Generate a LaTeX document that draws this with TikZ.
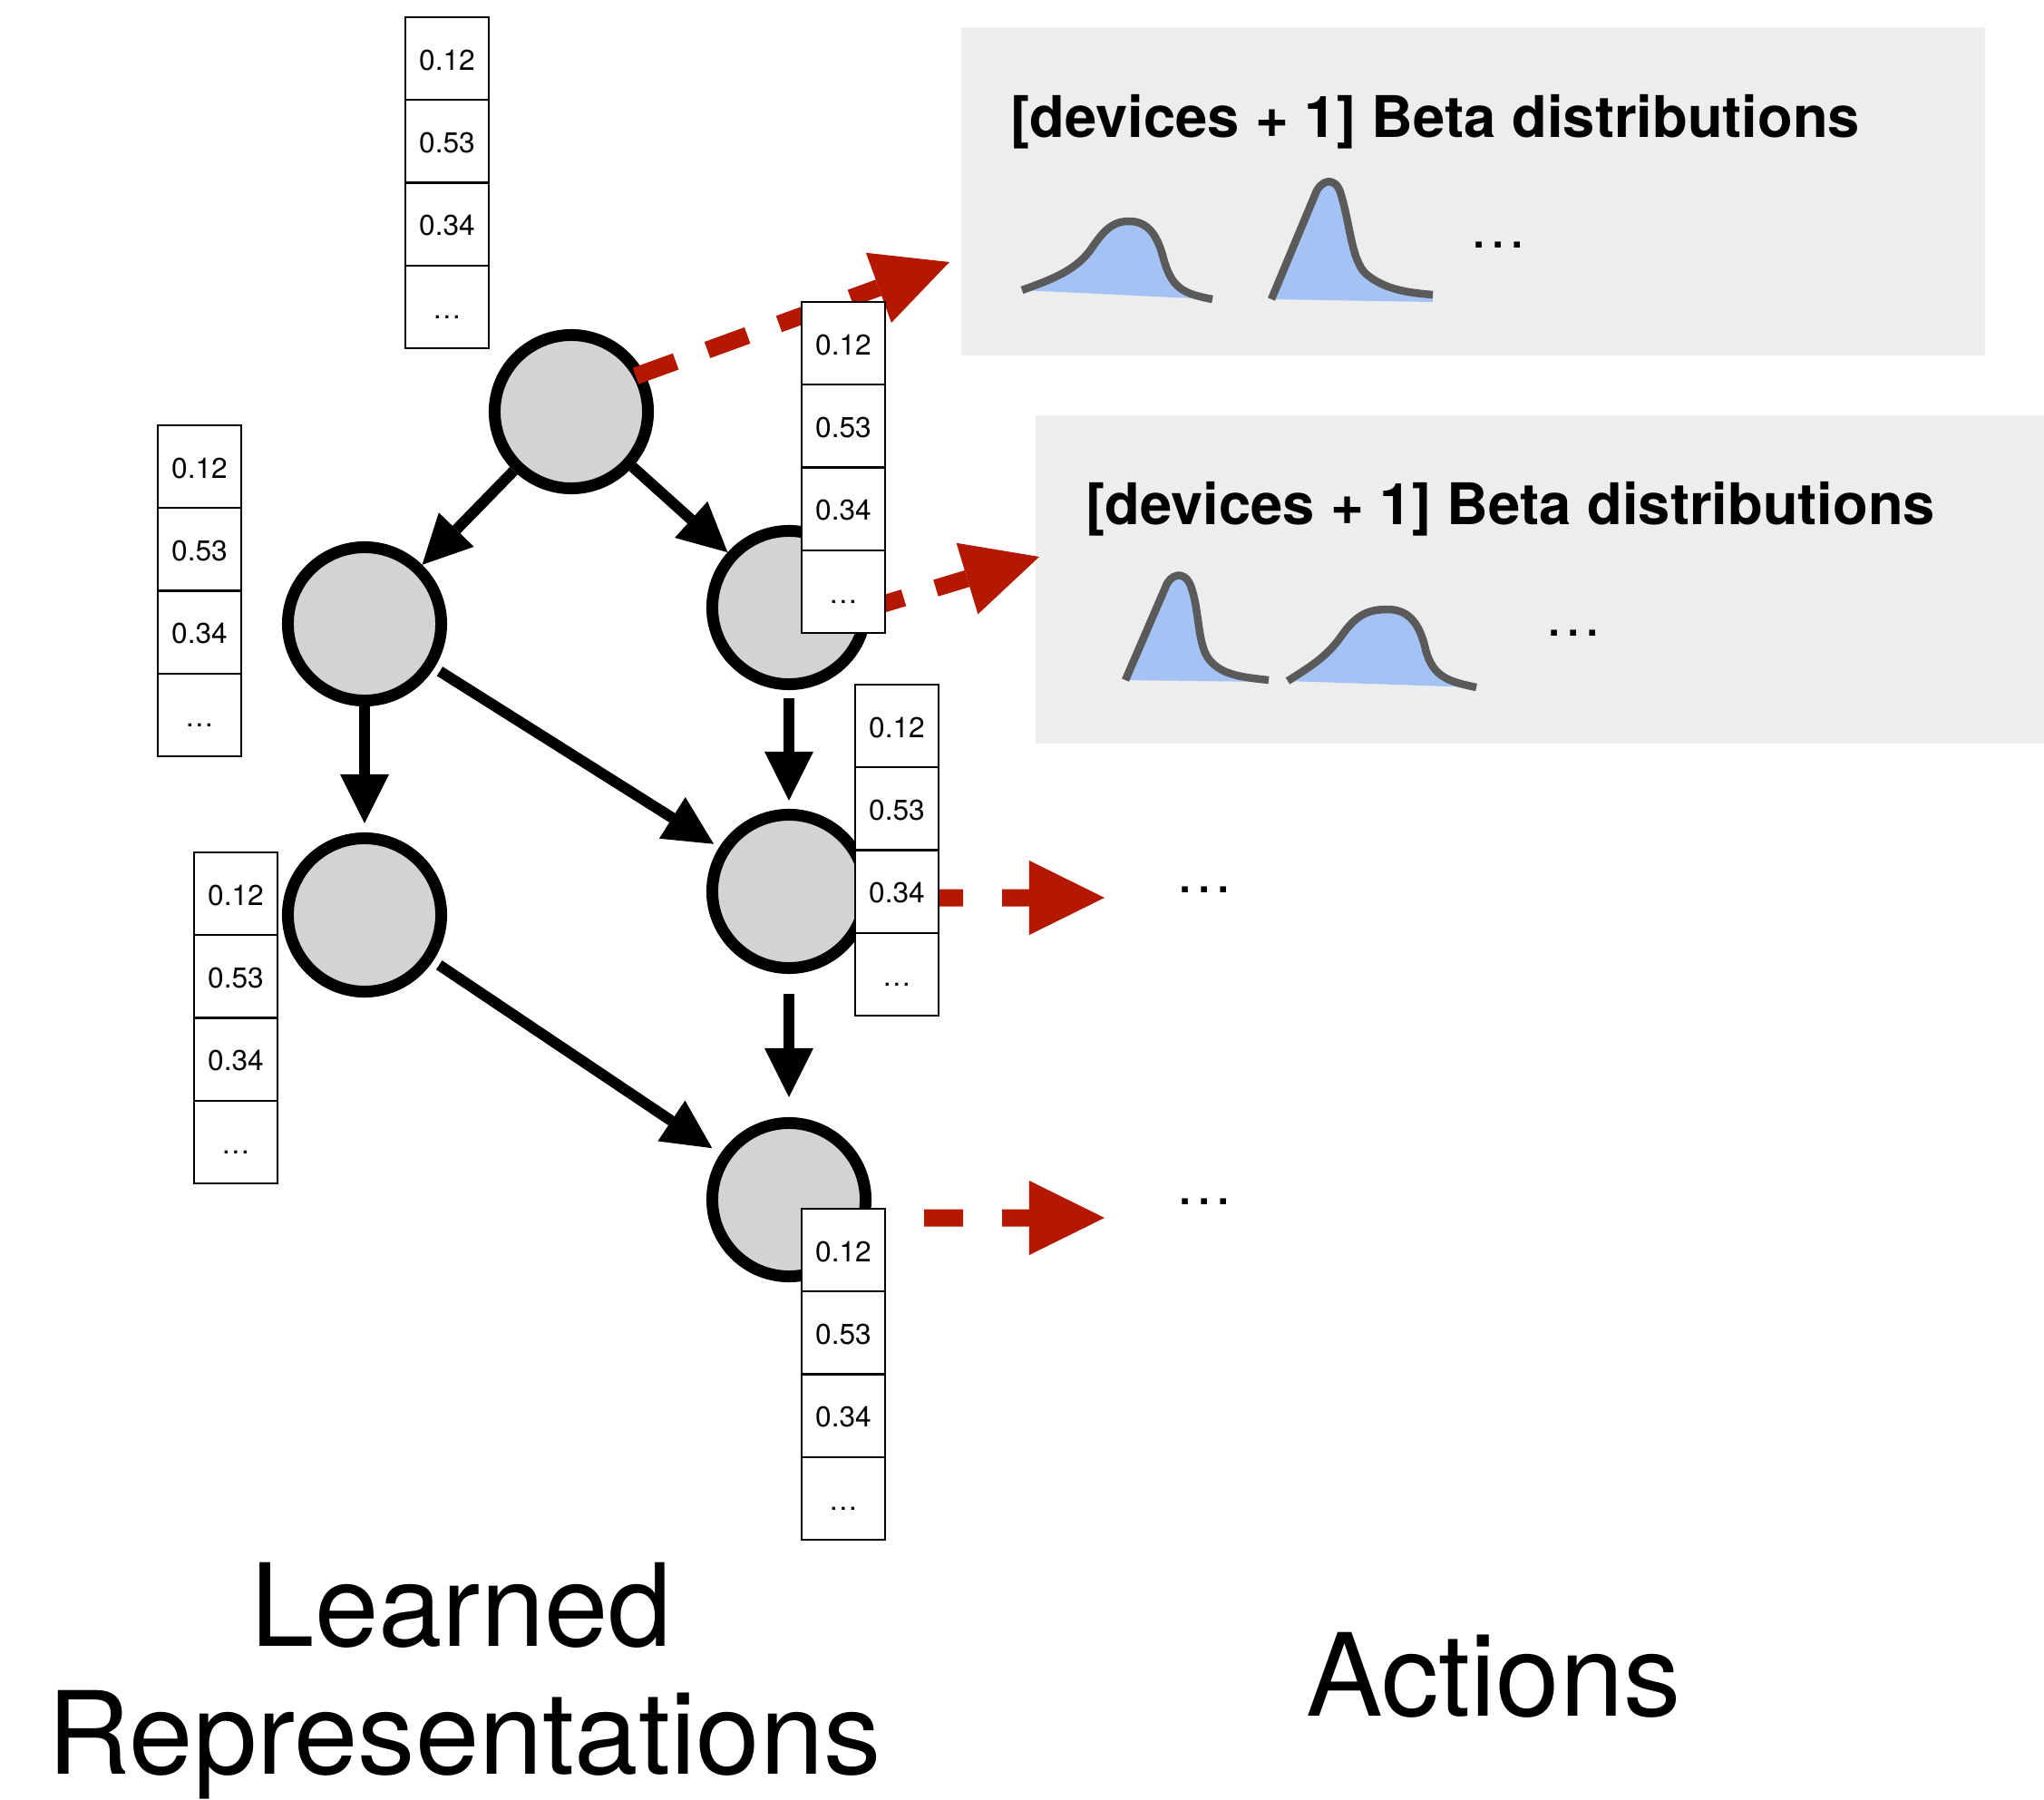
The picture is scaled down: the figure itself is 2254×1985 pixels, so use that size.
\documentclass[tikz,border=0pt]{standalone}
\usepackage{fontspec}
\setmainfont{TeX Gyre Heros}
\usetikzlibrary{arrows.meta}

\definecolor{panelgray}{RGB}{237,237,237}
\definecolor{nodegray}{RGB}{211,211,211}
\definecolor{actred}{RGB}{180,24,0}
\definecolor{betablue}{RGB}{164,194,244}
\definecolor{curvegray}{RGB}{90,90,90}

% a feature vector: four stacked cells, name prefix / x centre / top edge
\newcommand{\featvec}[3]{%
  \node[cell] (#1a) at (#2, #3+45.6)  {0.12};
  \node[cell] (#1b) at (#2, #3+136.9) {0.53};
  \node[cell] (#1c) at (#2, #3+228.2) {0.34};
  \node[cell] (#1d) at (#2, #3+319.5) {…};
}

% outlines of the four beta densities
\newcommand{\betawide}{(1127,320) .. controls (1160,308) and (1188,298) .. (1205,272)
  .. controls (1220,250) and (1230,244) .. (1245,244)
  .. controls (1265,244) and (1276,258) .. (1283,285)
  .. controls (1292,318) and (1305,324) .. (1337,330)}
\newcommand{\betatall}{(1402,330) -- (1450,215) .. controls (1456,198) and (1472,194) .. (1478,212)
  .. controls (1490,250) and (1490,292) .. (1510,305)
  .. controls (1530,320) and (1555,323) .. (1580,325)}
\newcommand{\betatallb}{(1241,750) -- (1285,648) .. controls (1290,633) and (1306,628) .. (1313,646)
  .. controls (1323,672) and (1320,712) .. (1334,728)
  .. controls (1348,745) and (1372,747) .. (1399,750)}
\newcommand{\betawideb}{(1420,751) .. controls (1445,735) and (1462,725) .. (1478,703)
  .. controls (1494,680) and (1506,672) .. (1530,672)
  .. controls (1555,672) and (1566,690) .. (1572,716)
  .. controls (1580,748) and (1600,752) .. (1628,758)}

\begin{document}
\begin{tikzpicture}[x=0.01cm, y=-0.01cm,
  neuron/.style={circle, draw=black, fill=nodegray, line width=0.13cm,
    minimum size=1.69cm, inner sep=0pt},
  cell/.style={rectangle, draw=black, fill=white, line width=0.6pt,
    minimum width=0.92cm, minimum height=0.913cm, inner sep=0pt,
    font=\fontsize{9}{10}\selectfont, text height=0.25cm, text depth=0pt},
  flow/.style={draw=black, line width=0.12cm,
    -{Triangle[length=0.54cm, width=0.54cm, line width=0pt]}},
  emit/.style={draw=actred, line width=0.19cm,
    -{Triangle[length=0.83cm, width=0.82cm, line width=0pt]}},
  panel/.style={fill=panelgray, draw=none, inner sep=0pt, anchor=north west},
  heading/.style={anchor=base west, inner sep=0pt, font=\fontsize{18}{21}\selectfont\bfseries},
  more/.style={anchor=base west, inner sep=0pt, font=\fontsize{18}{21}\selectfont},
  caption/.style={anchor=base, inner sep=0pt, font=\fontsize{36}{41}\selectfont},
  density/.style={draw=curvegray, line width=0.085cm, line join=round},
]
\useasboundingbox (0,0) rectangle (2254,1985);

% action panels
\node[panel, minimum width=11.29cm, minimum height=3.62cm] (box1) at (1059,29) {};
\node[panel, minimum width=11.13cm, minimum height=3.62cm] (box2) at (1141,457) {};
\node[heading] (title1) at (1114,152) {[devices + 1] Beta distributions};
\node[heading] (title2) at (1197,578) {[devices + 1] Beta distributions};

% beta densities
\fill[betablue] \betawide -- cycle;
\draw[density] \betawide;
\fill[betablue] \betatall -- (1580,333) -- cycle;
\draw[density] \betatall;
\fill[betablue] \betatallb -- (1399,752) -- cycle;
\draw[density] \betatallb;
\fill[betablue] \betawideb -- cycle;
\draw[density] \betawideb;

\node[more] (etc1) at (1620,274) {…};
\node[more] (etc2) at (1703,701) {…};
\node[more] (act3) at (1296,984) {…};
\node[more] (act4) at (1296,1328) {…};

% graph nodes
\node[neuron] (n0) at (630,454) {};
\node[neuron] (n1) at (402,688) {};
\node[neuron] (n2) at (870,670) {};
\node[neuron] (n3) at (402,1009) {};
\node[neuron] (n4) at (870,983) {};
\node[neuron] (n5) at (870,1323) {};

% edges
\draw[flow] (n0) -- (n1);
\draw[flow] (n0) -- (n2);
\draw[flow, shorten >=0.1cm] (n1) -- (n3);
\draw[flow, shorten <=0.07cm, shorten >=0.07cm] (n1) -- (n4);
\draw[flow, shorten <=0.09cm, shorten >=0.09cm] (n2) -- (n4);
\draw[flow, shorten <=0.22cm, shorten >=0.22cm] (n4) -- (n5);
\draw[flow, shorten <=0.08cm, shorten >=0.11cm] (n3) -- (n5);

% outputs to the actions
\coordinate (tip1) at (1047,289);
\coordinate (tip2) at (1146,614);
\coordinate (tip3) at (1218,990);
\coordinate (tip4) at (1218,1343);
\draw[emit, dash pattern=on 0.47cm off 0.37cm, shorten <=-0.1cm] (n0.28) -- (tip1);
\draw[emit, dash pattern=on 0.47cm off 0.37cm, dash phase=0.1cm] (n2.east) -- (tip2);
\draw[emit, dash pattern=on 0.43cm off 0.43cm, shorten <=0.58cm] ([yshift=-0.07cm]n4.east) -- (tip3);
\draw[emit, dash pattern=on 0.43cm off 0.43cm, shorten <=0.58cm] ([yshift=-0.2cm]n5.east) -- (tip4);

% learned representation vectors
\featvec{v0}{493}{19}
\featvec{v1}{930}{333}
\featvec{v2}{220}{469}
\featvec{v3}{260}{940}
\featvec{v4}{989}{755}
\featvec{v5}{930}{1333}

% captions
\node[caption] (cap1) at (509,1815) {Learned};
\node[caption] (cap2) at (512,1956) {Representations};
\node[caption] (cap3) at (1647,1892) {Actions};
\end{tikzpicture}
\end{document}
